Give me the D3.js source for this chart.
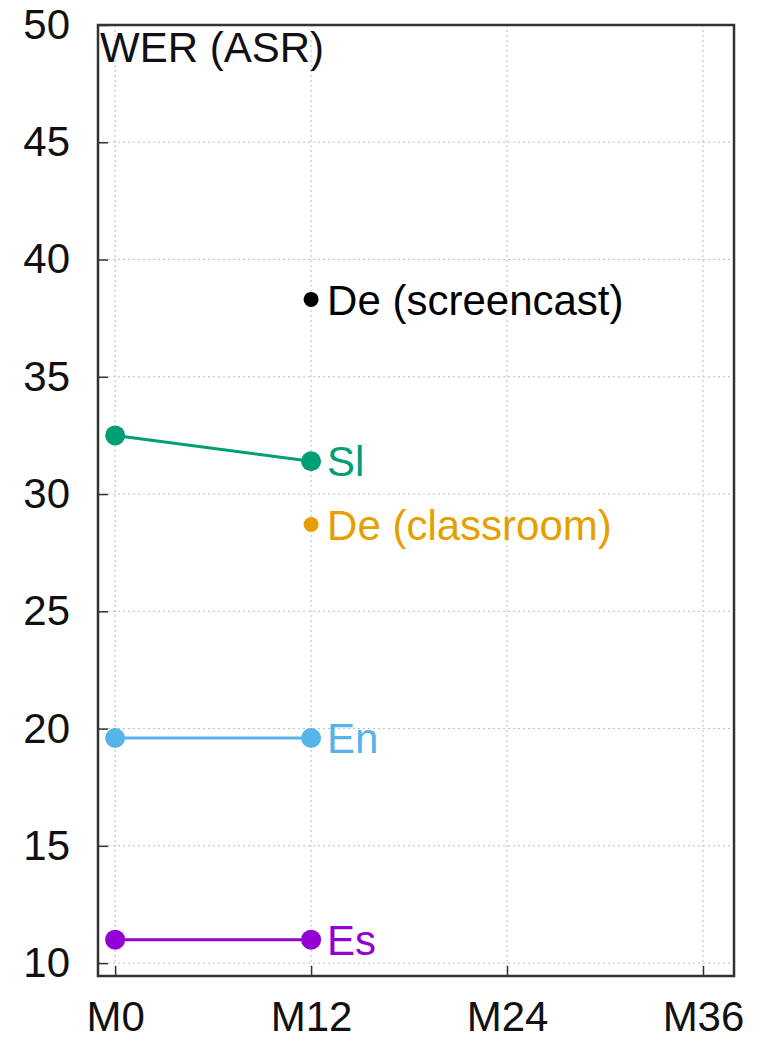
<!DOCTYPE html>
<html>
<head>
<meta charset="utf-8">
<script src="https://cdn.jsdelivr.net/npm/d3@7"></script>
<style>
  html, body { margin: 0; padding: 0; background: #fff; }
  svg { display: block; font-family: "Liberation Sans", Arial, sans-serif; }
</style>
</head>
<body>
<svg id="chart" width="760" height="1038"></svg>
<script>
// Milestones on the x axis (months)
const xTicks = [0, 12, 24, 36];
const xTickLabels = ["M0", "M12", "M24", "M36"];
const yTicks = [10, 15, 20, 25, 30, 35, 40, 45, 50];

// WER per language, by milestone
const slMonths = [0, 12];
const slValues = [32.5, 31.4];
const enMonths = [0, 12];
const enValues = [19.6, 19.6];
const esMonths = [0, 12];
const esValues = [11.0, 11.0];
const deScreencastMonths = [12];
const deScreencastValues = [38.3];
const deClassroomMonths = [12];
const deClassroomValues = [28.7];

const series = [
  { name: "De (screencast)", months: deScreencastMonths, values: deScreencastValues, color: "#000000", r: 7.5 },
  { name: "Sl", months: slMonths, values: slValues, color: "#009e73", r: 10 },
  { name: "De (classroom)", months: deClassroomMonths, values: deClassroomValues, color: "#e69f00", r: 7.5 },
  { name: "En", months: enMonths, values: enValues, color: "#56b4e9", r: 10 },
  { name: "Es", months: esMonths, values: esValues, color: "#9400d3", r: 10 }
];

const FONT = 42;
const plotLeft = 98, plotRight = 734, plotTop = 25, plotBottom = 976;
const svg = d3.select("#chart");

const x = d3.scaleLinear().domain([-1.05, 37.9]).range([plotLeft, plotRight]);
const y = d3.scaleLinear().domain([9.45, 50]).range([plotBottom, plotTop]);

// dotted grid
const grid = svg.append("g").attr("stroke", "#bdbdbd").attr("stroke-width", 1).attr("stroke-dasharray", "2,3");
grid.selectAll("line.h").data(yTicks.filter(v => v < 50)).join("line")
  .attr("class", "h")
  .attr("x1", plotLeft).attr("x2", plotRight)
  .attr("y1", d => y(d)).attr("y2", d => y(d));
grid.selectAll("line.v").data(xTicks).join("line")
  .attr("class", "v")
  .attr("x1", d => x(d)).attr("x2", d => x(d))
  .attr("y1", plotTop).attr("y2", plotBottom);

// axes: inward ticks, labels outside
const yAxis = d3.axisLeft(y).tickValues(yTicks).tickSize(-10).tickPadding(28).tickFormat(d3.format("d"));
const gy = svg.append("g").attr("transform", `translate(${plotLeft},0)`).call(yAxis);
gy.attr("font-size", FONT).attr("font-family", "Liberation Sans, Arial, sans-serif");
gy.select(".domain").remove();
gy.selectAll(".tick line").attr("stroke", "#333").attr("stroke-width", 1.5);
gy.selectAll(".tick text").attr("fill", "#111");

const xAxis = d3.axisBottom(x).tickValues(xTicks).tickSize(-10).tickPadding(25)
  .tickFormat((d, i) => xTickLabels[i]);
const gx = svg.append("g").attr("transform", `translate(0,${plotBottom})`).call(xAxis);
gx.attr("font-size", FONT).attr("font-family", "Liberation Sans, Arial, sans-serif");
gx.select(".domain").remove();
gx.selectAll(".tick line").attr("stroke", "#333").attr("stroke-width", 1.5);
gx.selectAll(".tick text").attr("fill", "#111");

// frame
svg.append("rect").attr("x", plotLeft).attr("y", plotTop)
  .attr("width", plotRight - plotLeft).attr("height", plotBottom - plotTop)
  .attr("fill", "none").attr("stroke", "#333").attr("stroke-width", 2.5);

// series lines, points and end labels
const line = d3.line().x(d => x(d[0])).y(d => y(d[1]));
series.forEach(s => {
  const pts = s.months.map((m, i) => [m, s.values[i]]);
  const g = svg.append("g");
  if (pts.length > 1) {
    g.append("path").attr("d", line(pts)).attr("fill", "none")
      .attr("stroke", s.color).attr("stroke-width", 3);
  }
  g.selectAll("circle").data(pts).join("circle")
    .attr("cx", d => x(d[0])).attr("cy", d => y(d[1])).attr("r", s.r)
    .attr("fill", s.color);
  const last = pts[pts.length - 1];
  g.append("text").attr("x", x(last[0]) + 16).attr("y", y(last[1]))
    .attr("dy", "0.36em").attr("font-size", FONT).attr("fill", s.color)
    .text(s.name);
});

// panel title inside the frame
svg.append("text").attr("x", plotLeft + 2).attr("y", 62)
  .attr("font-size", FONT).attr("fill", "#111").text("WER (ASR)");
</script>
</body>
</html>
